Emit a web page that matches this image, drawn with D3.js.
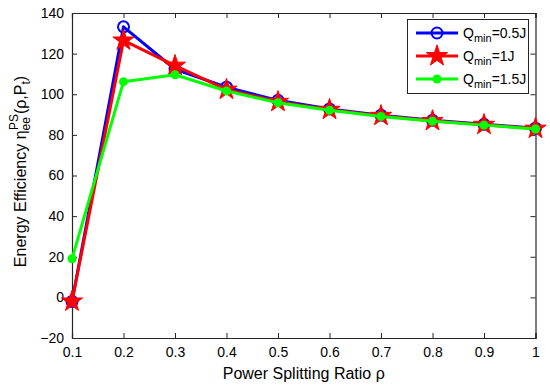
<!DOCTYPE html>
<html>
<head>
<meta charset="utf-8">
<script src="https://cdn.jsdelivr.net/npm/d3@7"></script>
<style>
body { margin: 0; background: #fff; }
text { font-family: "Liberation Sans", Arial, sans-serif; fill: #000; }
</style>
</head>
<body>
<div id="viz"></div>
<script>
var width = 550,
    height = 386;

var margin = {left: 72, right: 14.5, top: 13, bottom: 48};

// data
var rho = [0.1, 0.2, 0.3, 0.4, 0.5, 0.6, 0.7, 0.8, 0.9, 1.0];
var q05 = [-2, 133.2, 112.3, 103.5, 97, 92.8, 89.7, 87.2, 85.2, 83.3];
var q1 = [-2, 126.5, 114.1, 102.3, 96.3, 92.4, 89.4, 86.9, 85, 83.1];
var q15 = [19, 106.2, 109.6, 101.6, 95.8, 92.1, 89.1, 86.7, 84.8, 82.9];
var xTicks = [0.1, 0.2, 0.3, 0.4, 0.5, 0.6, 0.7, 0.8, 0.9, 1];
var yTicks = [-20, 0, 20, 40, 60, 80, 100, 120, 140];
var seriesNames = ['0.5J', '1J', '1.5J'];

var series = [
  {name: seriesNames[0], values: q05, color: '#0000ff', marker: 'ocircle'},
  {name: seriesNames[1], values: q1, color: '#ff0000', marker: 'star'},
  {name: seriesNames[2], values: q15, color: '#00ff00', marker: 'dot'}
];

var svg = d3.select('#viz')
  .append('svg')
  .attr('width', width)
  .attr('height', height);

var x = d3.scaleLinear().domain([0.1, 1]).range([margin.left, width - margin.right]);
var y = d3.scaleLinear().domain([-20, 140]).range([height - margin.bottom, margin.top]);

var axisColor = '#262626';

//ejes
var gx = svg.append('g')
  .attr('transform', 'translate(0,' + y(-20) + ')')
  .call(d3.axisBottom(x).tickValues(xTicks).tickSize(-5).tickPadding(9)
    .tickFormat(function(d) { return d === 1 ? '1' : d3.format('.1f')(d); }));
var gxTop = svg.append('g')
  .attr('transform', 'translate(0,' + y(140) + ')')
  .call(d3.axisTop(x).tickValues(xTicks).tickSize(-5).tickFormat(''));
var gy = svg.append('g')
  .attr('transform', 'translate(' + x(0.1) + ',0)')
  .call(d3.axisLeft(y).tickValues(yTicks).tickSize(-5).tickPadding(8)
    .tickFormat(function(d) { return d < 0 ? '\u2212' + Math.abs(d) : d; }));
var gyRight = svg.append('g')
  .attr('transform', 'translate(' + x(1) + ',0)')
  .call(d3.axisRight(y).tickValues(yTicks).tickSize(-5).tickFormat(''));

[gx, gxTop, gy, gyRight].forEach(function(g) {
  g.selectAll('path').attr('stroke', axisColor).attr('stroke-width', 1.2);
  g.selectAll('line').attr('stroke', axisColor).attr('stroke-width', 1);
  g.selectAll('text').style('font-size', '14px').style('font-family', '"Liberation Sans", Arial, sans-serif').attr('fill', '#000');
});

// etiquetas
svg.append('text')
  .attr('x', (x(0.1) + x(1)) / 2)
  .attr('y', 379)
  .attr('text-anchor', 'middle')
  .style('font-size', '16px')
  .text('Power Splitting Ratio \u03c1');

var yl = svg.append('text')
  .attr('transform', 'translate(26,' + ((y(-20) + y(140)) / 2 - 4) + ') rotate(-90)')
  .attr('text-anchor', 'middle')
  .style('font-size', '16px');
yl.append('tspan').text('Energy Efficiency  \u03b7');
yl.append('tspan').attr('dy', 4).style('font-size', '12px').text('ee');
yl.append('tspan').attr('dy', -12).attr('dx', -13).style('font-size', '12px').text('PS');
yl.append('tspan').attr('dy', 8).text('(\u03c1,P');
yl.append('tspan').attr('dy', 4).style('font-size', '12px').text('t');
yl.append('tspan').attr('dy', -4).text(')');

var star = d3.symbol().type(d3.symbolStar).size(140);

function drawMarker(g, type, color, cx, cy) {
  if (type === 'ocircle') {
    g.append('circle').attr('cx', cx).attr('cy', cy).attr('r', 5.5)
      .attr('fill', 'none').attr('stroke', color).attr('stroke-width', 2);
  } else if (type === 'star') {
    g.append('path').attr('d', star).attr('transform', 'translate(' + cx + ',' + cy + ')')
      .attr('fill', color).attr('stroke', color).attr('stroke-width', 1);
  } else {
    g.append('circle').attr('cx', cx).attr('cy', cy).attr('r', 4.5)
      .attr('fill', color);
  }
}

var line = d3.line()
  .x(function(d, i) { return x(rho[i]); })
  .y(function(d) { return y(d); });

var plot = svg.append('g').attr('class', 'plot');

series.forEach(function(s) {
  plot.append('path')
    .datum(s.values)
    .attr('d', line)
    .attr('fill', 'none')
    .attr('stroke', s.color)
    .attr('stroke-width', 3)
    .attr('stroke-linejoin', 'round');
  s.values.forEach(function(v, i) {
    drawMarker(plot, s.marker, s.color, x(rho[i]), y(v));
  });
});

//leyenda
var leg = svg.append('g');
leg.append('rect')
  .attr('x', 407.5).attr('y', 19.5)
  .attr('width', 121).attr('height', 74)
  .attr('fill', '#fff').attr('stroke', axisColor).attr('stroke-width', 1);

series.forEach(function(s, i) {
  var ly = 33 + i * 23;
  leg.append('line')
    .attr('x1', 416).attr('x2', 458)
    .attr('y1', ly).attr('y2', ly)
    .attr('stroke', s.color).attr('stroke-width', 3);
  drawMarker(leg, s.marker, s.color, 437, ly);
  var t = leg.append('text').attr('x', 463).attr('y', ly + 5).style('font-size', '14px');
  t.append('tspan').text('Q');
  t.append('tspan').attr('dy', 4).style('font-size', '11px').text('min');
  t.append('tspan').attr('dy', -4).text('=' + s.name);
});
</script>
</body>
</html>
